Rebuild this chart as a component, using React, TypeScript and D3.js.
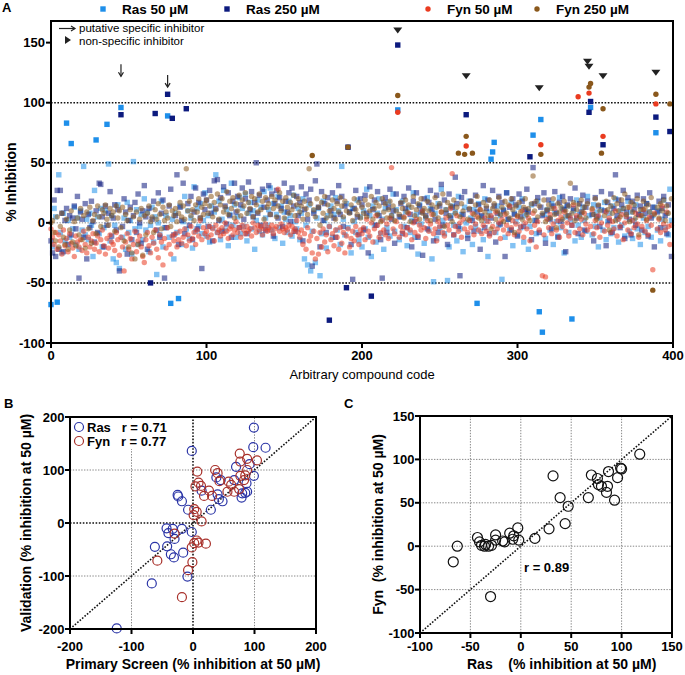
import React from "react";
import * as d3 from "d3";

// ---------------- Panel A data ----------------
const compoundTicks = [0, 100, 200, 300, 400];
const inhibitionTicks = [-100, -50, 0, 50, 100, 150];
const refLines = [100, 50, -50];

const ras50 = [
  -68, -20, 12, 5, -66, 40, -8, -25, 8, -15, 83, 2, -12, 66, -5, 13, -18, 4, -22, 10,
  -6, 47, -10, 3, -14, 8, -2, -28, 27, 69, 5, -9, 12, -20, -4, 10, 82, 49, -15, 6,
  -30, -2, -33, 15, -38, 96, -12, 4, -22, 17, -8, 2, -26, 51, -5, 11, -18, -3, 7, -14,
  20, -6, 9, -24, -2, 13, -16, 5, -43, 0, -10, 18, -20, -4, 6, 89, -12, -67, 3, -30,
  8, -8, -63, 14, -18, 1, 22, -5, 10, -13, 4, -21, 30, -7, 12, -3, 16, -9, 2, 25,
  -11, 6, -16, 14, -4, 9, 40, -8, 18, -14, 3, 27, -6, 11, -19, 7, 33, -2, 15, -12,
  5, 21, -9, 12, -3, 24, -15, 8, 17, -5, 10, -22, 2, 19, -7, 13, -10, 26, 4, -2,
  11, 29, -6, 16, -13, 7, 22, -4, 14, -17, 9, 3, -8, 18, 6, -11, 23, 1, -5, 12,
  -14, 8, 20, -30, -2, -35, 15, -40, -7, 10, -33, 4, 12, -44, -9, 18, 2, -21, 6, -3,
  14, -12, 7, 21, -6, 10, -18, 47, 3, -10, 16, -4, 9, -25, 12, 1, -8, 19, -15, 5,
  -20, 10, -5, 28, -12, 6, -28, 14, -2, -16, 8, 20, -9, 3, -22, 12, -4, 17, -11, 6,
  24, -7, 11, 94, -14, 5, 18, -3, 9, -19, 13, -8, 2, 25, -12, 7, -26, 15, -1, 10,
  -17, 4, 21, -6, 12, -30, -49, 8, -13, 16, -4, 28, 2, -9, 11, -48, -20, 6, 14, -2,
  9, -15, 22, -5, 7, -24, 13, 0, -10, 18, 4, -18, 11, -3, -67, 16, -7, 5, -14, 20,
  2, -28, 9, 53, 59, 67, -8, 14, -2, 6, -47, 11, -12, 25, 3, -6, 17, -19, 8, 1,
  -10, 13, -4, 20, -16, 6, 10, -22, -3, 15, 73, 2, -9, 18, -74, 86, -91, 7, -13, 11,
  4, -6, 16, -18, 9, 1, -11, 21, -4, 12, -25, 5, 14, -8, 3, -80, 10, -15, 19, -2,
  7, -12, 13, 2, -7, 22, 6, 96, -10, 15, -3, 9, -20, 4, 11, -6, 17, -14, 1, 8,
  -9, 14, -4, 20, 3, -16, 10, -2, 12, -11, 5, 18, -7, 9, -13, 2, 15, -5, 7, -18,
  11, 4, -8, 16, -3, 9, -12, 6, 13, 75, -6, 10, -15, 3, 19, -4, 8, -10, 28, 2,
];

const ras250 = [
  -15, -25, 19, -28, 27, -22, 27, 8, -24, 2, 12, -18, 6, -10, 4, 14, -5, 22, -46, 9,
  3, -12, 16, -30, 7, -4, 18, 1, -16, 10, -8, 33, 32, 5, -20, 14, -2, 8, 26, -11,
  4, 15, -6, 11, -40, 90, -3, 20, 9, -26, 2, 13, -14, 6, 17, -8, 24, 0, -17, 10,
  31, 5, -22, 12, -50, 3, 18, 91, -6, 25, -12, 8, 19, -46, -4, 107, 14, 28, 87, -10,
  6, 40, -18, 13, 2, 33, -9, 95, 16, -2, 22, -14, 9, 29, -5, 17, 4, -38, 24, 11,
  19, -3, 27, 8, -15, 35, 12, 36, 2, 21, -7, 30, 14, -1, 25, 6, -12, 18, 33, 9,
  22, -4, 15, 29, 3, 20, -9, 34, 11, 26, 5, 17, 50, 8, 23, -2, 28, 13, -6, 19,
  31, 7, 24, -11, 16, 27, 4, 21, 12, -3, 33, 18, 9, 25, 1, 29, 14, -7, 22, 6,
  17, 30, -15, 11, 24, 3, 19, 28, -36, 8, 35, 49, 13, -20, 26, 2, 16, -8, 21, -81,
  10, 25, 4, -12, 18, 31, 7, 22, -3, 14, -54, 63, 9, -18, -47, 12, 27, 5, -10, 20,
  15, -6, 23, 8, -25, 30, -61, 11, 19, -2, 26, 6, -14, -46, 17, 21, -8, 13, 28, 3,
  10, -17, 24, 148, 5, 16, -9, 22, 12, -4, 29, 7, -20, 18, 1, 25, -12, 14, 9, -27,
  20, 6, -5, 17, 27, 11, -15, 3, 23, -8, 14, 32, -2, 19, 8, -18, 24, 4, 13, -10,
  38, 16, -3, -44, 21, 7, 26, 90, -13, 11, 18, 2, -7, 23, 9, 15, -22, 6, 31, -4,
  12, 19, -9, 4, 27, 14, -16, 8, 22, -1, 17, 10, -28, 25, 3, 13, -6, 20, 7, 15,
  -11, 24, 5, 18, -3, 11, 28, 9, 55, -14, 46, 16, 2, 21, -8, 13, 6, 25, -17, 10,
  19, 3, -5, 14, 26, 8, -12, 17, 1, 22, 11, -24, 15, 6, 20, -2, 12, 29, 4, -9,
  16, 9, 23, -6, 13, 18, 92, 101, 7, -15, 21, 5, 14, -3, 26, 65, 10, -19, 17, 2,
  24, -8, 12, 40, 6, 19, -4, 15, 27, -13, 9, 21, 3, -10, 18, 11, -2, 23, 7, 14,
  -6, 20, 8, 16, -11, 25, 4, 13, -20, 88, 9, 18, -4, 12, 22, 6, -9, 15, 76, -28,
];

const fyn50 = [
  -5, -12, -18, -8, -22, -10, -15, -26, -6, -19, -13, -24, -9, -17, -21, -28, -11, -16, -20, -14,
  -23, -7, -18, -25, -12, -20, -15, -9, -22, -17, -11, -24, -14, -6, -19, -26, -13, -21, -10, -16,
  -18, -23, -8, -14, -27, -12, -20, -40, -16, -9, -22, -13, -30, -18, -7, -24, -15, -11, -20, -28,
  -33, -14, -8, -19, -25, -12, -17, -6, -22, -29, -10, -16, -35, -13, -21, -4, -18, -26, -11, -15,
  -9, -20, -14, -7, -17, -12, -5, -19, -10, -15, -3, -13, -8, -18, -6, -11, 2, -14, -4, -9,
  -7, -12, -3, -10, -5, -15, -2, -8, -6, -11, -4, -9, 0, -7, -13, -5, -3, -10, -6, 1,
  -8, -4, -12, -2, -6, -9, -3, -7, -5, -11, 0, -4, -8, -2, -6, -3, -10, -5, -1, -7,
  -4, -6, -2, -9, -5, -3, 28, -7, -1, -5, -8, -4, -6, -2, -10, -3, -7, -5, 2, -8,
  -12, -6, -18, -9, -22, -4, -15, -11, -25, -7, -30, -13, -26, -8, -20, -5, -16, -10, -24, -3,
  -14, -9, -19, -6, -12, -22, -4, -17, -8, -25, -11, -5, -20, -13, -7, -15, -3, -10, -18, -6,
  -9, -4, -14, 3, -7, -11, 0, -16, -5, 6, -2, -12, -8, 2, -6, -10, -1, -13, 4, 46,
  -5, -9, 1, 92, -12, -3, -7, 5, -10, -4, 8, -6, -14, 0, -8, 3, -11, -2, -6, 10,
  -4, -13, 2, -7, -1, 7, -9, -5, -15, 1, -3, 9, -8, -11, 4, -2, -6, 12, 41, -10,
  -3, 6, -7, 0, -12, 3, -5, 64, -8, 2, -4, 8, -10, -1, 5, -6, 11, -9, -2, 4,
  -7, 1, -11, 6, -3, -8, 9, -5, 0, -13, 3, -6, 7, -2, -9, 14, -4, 2, -10, -1,
  5, -7, -3, 10, -12, 0, -5, 4, -15, -8, 8, -2, -20, 1, -6, 65, -44, -10, -45, 3,
  -4, 7, -9, -1, 12, -6, 2, -12, 5, -3, 9, -7, 0, -11, 4, -2, 15, -8, 6, 105,
  -5, 3, -10, 8, -1, -6, 108, -3, 11, -9, 2, -4, 6, -12, 0, 72, -7, 9, -2, 4,
  -8, 1, -5, 10, -11, 3, -3, 7, -14, 0, 5, -6, 13, -9, 2, -4, 8, -1, -12, 6,
  -3, 11, -7, 2, -10, 5, -2, -39, 8, 99, -5, 3, -8, 14, -1, -6, 9, -3, -18, -2,
];

const fyn250 = [
  0, 2, -8, -15, 5, -20, -3, 8, -12, -18, 3, -22, -6, 10, -16, 1, -19, 4, -10, 12,
  -14, 6, -21, 9, -5, 13, -17, 2, 7, -9, 14, 5, -3, 11, 8, 15, 3, -2, 12, 6,
  9, -7, 14, 4, 10, -4, 13, -15, 7, 2, -20, 11, -25, 5, -30, 9, -18, 3, 12, -27,
  6, -10, 8, 14, 1, 5, -8, 11, 3, 16, 7, -5, 13, 2, 9, 4, 15, -3, 10, 6,
  12, 1, 8, 17, 5, 14, 3, 45, 10, 18, 6, 11, 2, 15, 9, 20, 4, 13, 7, 16,
  19, 8, 14, 22, 5, 17, 11, 24, 3, 15, 20, 9, 13, 26, 7, 18, 12, 21, 4, 16,
  10, 23, 6, 19, 14, 25, 8, 17, 12, 22, 5, 20, 15, 9, 24, 11, 18, 3, 21, 13,
  16, 7, 22, 12, 19, 5, 14, 25, 10, 18, 4, 21, 13, 8, 17, 11, 23, 6, 15, 20,
  9, 14, 3, 18, 12, 7, 45, 16, 56, 11, 5, 20, 13, -2, 17, 8, 22, 4, 15, 10,
  6, 19, 12, 3, 16, 9, 21, 14, 5, 18, 10, 63, 8, 15, 2, 20, 11, 7, 17, 4,
  13, 8, 19, 5, 15, 10, 22, 3, 12, 17, 7, 14, 1, 20, 9, 16, 4, 11, 18, 6,
  14, 2, 10, 106, 7, 17, 12, 4, 19, 9, 15, 1, 13, 22, 6, 11, 16, 3, 20, 8,
  12, 5, 18, 10, 2, 15, 7, 21, 13, 4, 16, 9, 24, -3, 11, 17, 6, 14, 1, 19,
  8, 13, 58, 5, 16, 10, 57, 72, 3, 12, 18, 58, 7, 15, 22, 4, 11, 2, 17, 9,
  14, 6, 19, -5, 12, 16, 3, 10, 21, 7, 13, 1, 18, 8, 15, 4, 20, 11, -8, 14,
  6, 17, 9, 3, 13, 20, 7, 12, 2, 16, 39, 10, 18, 5, 14, 57, 8, 19, 1, 11,
  15, 4, 12, 20, 7, -4, 16, 9, 13, 3, 18, 10, 6, 14, 33, 8, 17, 2, 11, 15,
  5, 19, 9, 13, 4, 16, 113, 116, 12, 7, 20, 3, 15, 10, 58, 95, 6, 18, 11, -6,
  14, 8, 21, 2, 16, 10, 5, 19, 12, 24, 7, 13, 1, 17, 9, 15, 4, 20, -10, 11,
  6, 18, 12, 3, 15, 9, 21, -56, 7, 107, 13, 4, 16, 10, 19, 2, 14, 8, 99, 20,
];

const specificIdx = [45, 75];
const specificTop = [122, 113];
const nonSpecificIdx = [223, 267, 314, 345, 346, 355, 389];
const nonSpecificTop = [160, 122, 112, 134, 130, 122, 125];

// ---------------- Panel B data ----------------
const bTicks = [-200, -100, 0, 100, 200];
const rasPrimary = [99, 98, 118, -2, 70, 92, 99, 67, 38, 45, 87, 14, -25, -24, -18, 40, 42, 48, 80, 88, 85, 79, -8, 29, -43, -40, -33, -18, -2, -30, -42, -62, -36, -31, -16, -9, -67, -124];
const rasValid = [180, 143, 142, 136, 106, 111, 89, 81, 86, 81, 75, 61, 53, 50, 41, 54, 45, 41, 56, 59, 57, 48, 25, 25, -10, -19, -11, -11, -17, -30, -44, -45, -59, -65, -56, -101, -114, -199];
const fynPrimary = [76, 77, 88, 104, 36, 7, 40, 88, 85, 77, 9, 13, 4, 43, 58, 56, 67, 75, 83, 18, 26, 31, 2, 6, 1, 14, 6, 9, 2, -2, 21, -1, -8, -58, -18, -30, 62];
const fynValid = [131, 116, 121, 118, 100, 97, 94, 100, 90, 89, 76, 70, 69, 79, 78, 59, 59, 64, 81, 51, 61, 51, 26, 21, 15, 3, -33, -37, -38, -46, -39, -74, -89, -71, -140, -20, 72];

// ---------------- Panel C data ----------------
const cTicks = [-100, -50, 0, 50, 100, 150];
const cRas = [118, 99, 100, 70, 87, 32, 76, 77, 80, 86, 96, 85, 67, 93, 39, 47, 44, 28, 14, -3, -2, -7, -8, -11, -18, -16, -25, -25, -29, -32, -36, -39, -41, -43, -35, -63, -67, -30];
const cFyn = [106, 90, 89, 82, 86, 81, 78, 71, 69, 69, 79, 62, 56, 53, 56, 46, 26, 20, 9, 21, 7, 12, 8, 15, 6, 5, 13, 7, 1, 0, 0, 1, 5, 10, 2, 0, -18, -58];

const FONT = "'Liberation Sans', Arial, Helvetica, sans-serif";

const seriesA = [
  { label: "Ras 50 µM", data: ras50, color: "#1e8fea", shape: "sq", lx: 103 },
  { label: "Ras 250 µM", data: ras250, color: "#0c1a7e", shape: "sq", lx: 227 },
  { label: "Fyn 50 µM", data: fyn50, color: "#ea3b20", shape: "ci", lx: 428 },
  { label: "Fyn 250 µM", data: fyn250, color: "#8a581c", shape: "ci", lx: 537 },
];

const strong = (v: number) => v > 52 || v < -49.5;

export default function App() {
  const ax = d3.scaleLinear().domain([0, 400]).range([51, 673]);
  const ay = d3.scaleLinear().domain([-100, 168]).range([343, 21]);
  const bx = d3.scaleLinear().domain([-200, 200]).range([70, 316]);
  const by = d3.scaleLinear().domain([-200, 200]).range([629, 417]);
  const cx = d3.scaleLinear().domain([-100, 150]).range([420, 672]);
  const cy = d3.scaleLinear().domain([-100, 150]).range([633, 416]);

  const marker = (shape: string, x: number, y: number, color: string, op: number, key: string) =>
    shape === "sq" ? (
      <rect key={key} x={x - 2.7} y={y - 2.7} width={5.4} height={5.4} fill={color} fillOpacity={op} />
    ) : (
      <circle key={key} cx={x} cy={y} r={2.7} fill={color} fillOpacity={op} />
    );

  const pass = (isStrong: boolean) =>
    seriesA.map((s, si) =>
      s.data.map((v, i) =>
        strong(v) === isStrong ? marker(s.shape, ax(i), ay(v), s.color, isStrong ? 1 : 0.55, `${isStrong ? "s" : "f"}${si}-${i}`) : null
      )
    );

  const dotted = { stroke: "#111", strokeWidth: 1.6, strokeDasharray: "1.6,1.6" };
  const grayDot = { stroke: "#888", strokeWidth: 1, strokeDasharray: "1.4,1.4" };

  return (
    <svg width={685} height={675} style={{ position: "absolute", left: 0, top: 0, background: "#fff" }} fontFamily={FONT}>
      <rect width={685} height={675} fill="#fff" />
      {/* ============ Panel A ============ */}
      <text x={2} y={12} fontSize={13} fontWeight="bold">A</text>
      {seriesA.map((s) => (
        <g key={s.label}>
          {s.shape === "sq" ? (
            <rect x={s.lx - 2.7} y={9 - 2.7} width={5.4} height={5.4} fill={s.color} />
          ) : (
            <circle cx={s.lx} cy={9} r={2.7} fill={s.color} />
          )}
          <text x={s.lx + 19} y={14} fontSize={13.5} fontWeight="bold">{s.label}</text>
        </g>
      ))}
      {/* reference lines */}
      <line x1={ax(0)} x2={ax(400)} y1={ay(0)} y2={ay(0)} {...grayDot} />
      {refLines.map((v) => (
        <line key={v} x1={ax(0)} x2={ax(400)} y1={ay(v)} y2={ay(v)} {...dotted} />
      ))}
      {pass(false)}
      {pass(true)}
      {/* non-specific markers */}
      {nonSpecificIdx.map((idx, k) => {
        const x = ax(idx), y = ay(nonSpecificTop[k]);
        return <path key={"ns" + k} d={`M${x - 4.5},${y - 3}L${x + 4.5},${y - 3}L${x},${y + 3}Z`} fill="#222" />;
      })}
      {specificIdx.map((idx, k) => {
        const x = ax(idx), y = ay(specificTop[k]);
        return (
          <g key={"sp" + k} stroke="#222" strokeWidth={1.2} fill="none">
            <line x1={x} x2={x} y1={y - 12} y2={y} />
            <path d={`M${x - 2.5},${y - 4}L${x},${y}L${x + 2.5},${y - 4}`} />
          </g>
        );
      })}
      {/* annotation legend */}
      <g stroke="#222" strokeWidth={1.2} fill="none">
        <line x1={59} x2={75} y1={28.5} y2={28.5} />
        <path d="M71,26L75,28.5L71,31" />
      </g>
      <text x={79} y={31.5} fontSize={11.5}>putative specific inhibitor</text>
      <path d="M65,36L71,40L65,44Z" fill="#222" />
      <text x={79} y={44.5} fontSize={11.5}>non-specific inhibitor</text>
      {/* frame & axes */}
      <rect x={ax(0)} y={ay(168)} width={ax(400) - ax(0)} height={ay(-100) - ay(168)} fill="none" stroke="#000" strokeWidth={2} />
      {inhibitionTicks.map((t) => (
        <g key={t}>
          <line x1={ax(0) - 5} x2={ax(0)} y1={ay(t)} y2={ay(t)} stroke="#000" strokeWidth={2} />
          <text x={ax(0) - 6} y={ay(t) + 4.5} fontSize={13} fontWeight="bold" textAnchor="end">{t}</text>
        </g>
      ))}
      {compoundTicks.map((t) => (
        <g key={t}>
          <line x1={ax(t)} x2={ax(t)} y1={ay(-100)} y2={ay(-100) + 5} stroke="#000" strokeWidth={2} />
          <text x={ax(t)} y={360} fontSize={13} fontWeight="bold" textAnchor="middle">{t}</text>
        </g>
      ))}
      <text x={(ax(0) + ax(400)) / 2} y={379} fontSize={13} textAnchor="middle">Arbitrary compound code</text>
      <text transform={`translate(16,${(ay(-100) + ay(168)) / 2}) rotate(-90)`} fontSize={14} fontWeight="bold" textAnchor="middle">% Inhibition</text>

      {/* ============ Panel B ============ */}
      <text x={4} y={408} fontSize={13} fontWeight="bold">B</text>
      {[-100, 100].map((t) => (
        <g key={t}>
          <line x1={bx(t)} x2={bx(t)} y1={by(-200)} y2={by(200)} {...grayDot} />
          <line x1={bx(-200)} x2={bx(200)} y1={by(t)} y2={by(t)} {...grayDot} />
        </g>
      ))}
      <line x1={bx(0)} x2={bx(0)} y1={by(-200)} y2={by(200)} {...dotted} />
      <line x1={bx(-200)} x2={bx(200)} y1={by(0)} y2={by(0)} {...dotted} />
      <line x1={bx(-200)} x2={bx(200)} y1={by(-200)} y2={by(200)} {...dotted} />
      <rect x={72} y={419} width={96} height={30} fill="#fff" />
      {rasPrimary.map((p, i) => (
        <circle key={"br" + i} cx={bx(p)} cy={by(rasValid[i])} r={4.5} fill="none" stroke="#2a34a6" strokeWidth={1.2} />
      ))}
      {fynPrimary.map((p, i) => (
        <circle key={"bf" + i} cx={bx(p)} cy={by(fynValid[i])} r={4.5} fill="none" stroke="#a8302a" strokeWidth={1.2} />
      ))}
      <circle cx={79} cy={427} r={4.5} fill="none" stroke="#2a34a6" strokeWidth={1.2} />
      <text x={87} y={432} fontSize={13} fontWeight="bold" style={{ whiteSpace: "pre" }}>Ras   r = 0.71</text>
      <circle cx={79} cy={441} r={4.5} fill="none" stroke="#a8302a" strokeWidth={1.2} />
      <text x={87} y={446} fontSize={13} fontWeight="bold" style={{ whiteSpace: "pre" }}>Fyn   r = 0.77</text>
      <rect x={bx(-200)} y={by(200)} width={bx(200) - bx(-200)} height={by(-200) - by(200)} fill="none" stroke="#000" strokeWidth={2} />
      {bTicks.map((t) => (
        <g key={t}>
          <line x1={bx(-200) - 5} x2={bx(-200)} y1={by(t)} y2={by(t)} stroke="#000" strokeWidth={2} />
          <text x={bx(-200) - 5.5} y={by(t) + 4.5} fontSize={13} fontWeight="bold" textAnchor="end">{t}</text>
          <line x1={bx(t)} x2={bx(t)} y1={by(-200)} y2={by(-200) + 5} stroke="#000" strokeWidth={2} />
          <text x={bx(t)} y={651} fontSize={13} fontWeight="bold" textAnchor="middle">{t}</text>
        </g>
      ))}
      <text x={(bx(-200) + bx(200)) / 2} y={669} fontSize={14} fontWeight="bold" textAnchor="middle">Primary Screen (% inhibition at 50 µM)</text>
      <text transform={`translate(31,${(by(-200) + by(200)) / 2}) rotate(-90)`} fontSize={14} fontWeight="bold" textAnchor="middle">Validation (% inhibition at 50 µM)</text>

      {/* ============ Panel C ============ */}
      <text x={344} y={408} fontSize={13} fontWeight="bold">C</text>
      {[-50, 0, 50, 100].map((t) => (
        <g key={t}>
          <line x1={cx(t)} x2={cx(t)} y1={cy(-100)} y2={cy(150)} {...grayDot} />
          <line x1={cx(-100)} x2={cx(150)} y1={cy(t)} y2={cy(t)} {...grayDot} />
        </g>
      ))}
      <line x1={cx(-100)} x2={cx(150)} y1={cy(-100)} y2={cy(150)} {...dotted} />
      {cRas.map((p, i) => (
        <circle key={"c" + i} cx={cx(p)} cy={cy(cFyn[i])} r={5} fill="none" stroke="#111" strokeWidth={1.2} />
      ))}
      <text x={524} y={572} fontSize={13} fontWeight="bold">r = 0.89</text>
      <rect x={cx(-100)} y={cy(150)} width={cx(150) - cx(-100)} height={cy(-100) - cy(150)} fill="none" stroke="#000" strokeWidth={2} />
      {cTicks.map((t) => (
        <g key={t}>
          <line x1={cx(-100) - 5} x2={cx(-100)} y1={cy(t)} y2={cy(t)} stroke="#000" strokeWidth={2} />
          <text x={cx(-100) - 5.5} y={cy(t) + 4.5} fontSize={13} fontWeight="bold" textAnchor="end">{t}</text>
          <line x1={cx(t)} x2={cx(t)} y1={cy(-100)} y2={cy(-100) + 5} stroke="#000" strokeWidth={2} />
          <text x={cx(t)} y={651} fontSize={13} fontWeight="bold" textAnchor="middle">{t}</text>
        </g>
      ))}
      <text x={467} y={669} fontSize={14} fontWeight="bold" style={{ whiteSpace: "pre" }}>Ras    (% inhibition at 50 µM)</text>
      <text transform={`translate(383,${(cy(-100) + cy(150)) / 2}) rotate(-90)`} fontSize={14} fontWeight="bold" textAnchor="middle" style={{ whiteSpace: "pre" }}>Fyn  (% inhibition at 50 µM)</text>
    </svg>
  );
}
